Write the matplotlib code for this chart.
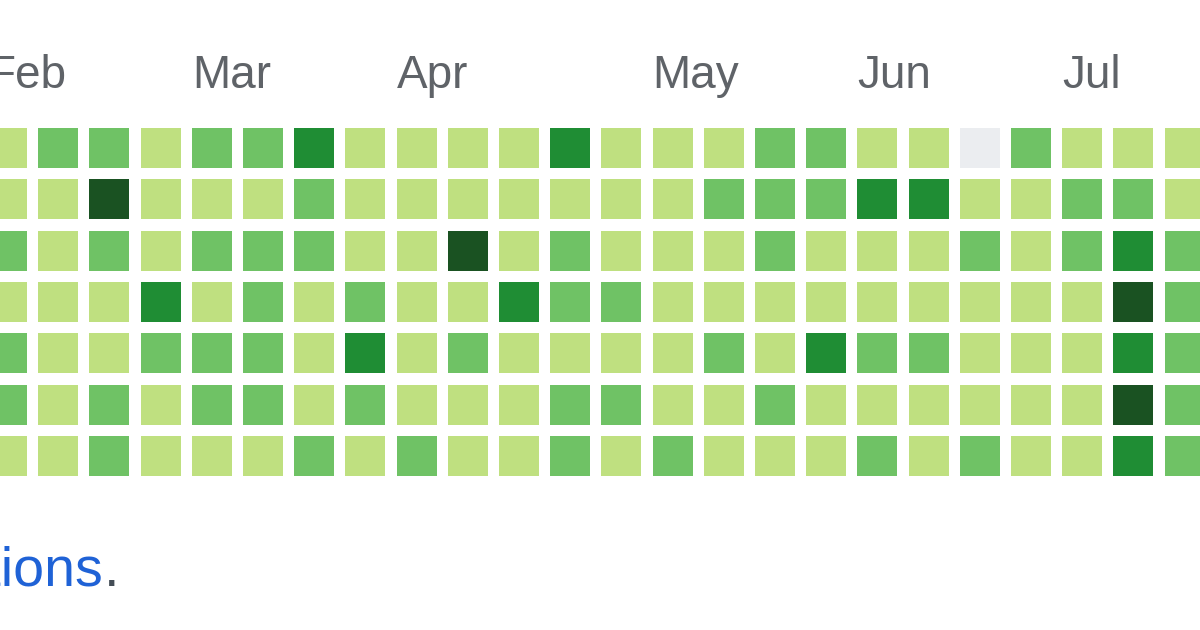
import numpy as np
import matplotlib.pyplot as plt
from matplotlib.patches import Rectangle

plt.rcParams['font.family'] = ['Liberation Sans', 'DejaVu Sans']

# contribution level per weekday row (0 = none ... 4 = most), one value per week column
row0 = [1, 2, 2, 1, 2, 2, 3, 1, 1, 1, 1, 3, 1, 1, 1, 2, 2, 1, 1, 0, 2, 1, 1, 1]
row1 = [1, 1, 4, 1, 1, 1, 2, 1, 1, 1, 1, 1, 1, 1, 2, 2, 2, 3, 3, 1, 1, 2, 2, 1]
row2 = [2, 1, 2, 1, 2, 2, 2, 1, 1, 4, 1, 2, 1, 1, 1, 2, 1, 1, 1, 2, 1, 2, 3, 2]
row3 = [1, 1, 1, 3, 1, 2, 1, 2, 1, 1, 3, 2, 2, 1, 1, 1, 1, 1, 1, 1, 1, 1, 4, 2]
row4 = [2, 1, 1, 2, 2, 2, 1, 3, 1, 2, 1, 1, 1, 1, 2, 1, 3, 2, 2, 1, 1, 1, 3, 2]
row5 = [2, 1, 2, 1, 2, 2, 1, 2, 1, 1, 1, 2, 2, 1, 1, 2, 1, 1, 1, 1, 1, 1, 4, 2]
row6 = [1, 1, 2, 1, 1, 1, 2, 1, 2, 1, 1, 2, 1, 2, 1, 1, 1, 2, 1, 2, 1, 1, 3, 2]
levels = np.array([row0, row1, row2, row3, row4, row5, row6])

# month labels and the week column where each starts
months = ['Feb', 'Mar', 'Apr', 'May', 'Jun', 'Jul']
month_cols = [0, 4, 8, 13, 17, 21]

palette = ['#ebedf0', '#bfe080', '#6fc265', '#1f8d34', '#1a5222']

fig = plt.figure(figsize=(12, 6.3), dpi=100)
ax = fig.add_axes([0, 0, 1, 1])
ax.set_xlim(0.254, 0.254 + 1200 / 51.2)
ax.set_ylim((630 - 128) / 51.3, -128 / 51.3)
ax.axis('off')

cell = 0.78
for r in range(levels.shape[0]):
    for c in range(levels.shape[1]):
        ax.add_patch(Rectangle((c, r), cell, cell, facecolor=palette[levels[r, c]],
                               edgecolor='none'))

for name, col in zip(months, month_cols):
    ax.text(col, -0.78, name, fontsize=33, color='#5f6368', ha='left', va='baseline')

fig.text(103 / 1200, 1 - 586 / 630, 'Learn how we count contributions', fontsize=40,
         color='#1f62d6', ha='right', va='baseline')
fig.text(104 / 1200, 1 - 586 / 630, '.', fontsize=40, color='#444d56', ha='left', va='baseline')

fig.savefig('out.png', dpi=100, facecolor='white')
